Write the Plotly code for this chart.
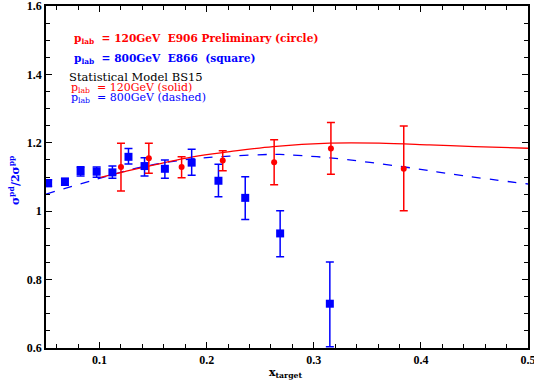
import plotly.graph_objects as go

# E866 (800 GeV) data, squares
e866_x = [0.052, 0.0677, 0.0823, 0.0973, 0.112, 0.127, 0.142, 0.161, 0.186, 0.211, 0.236, 0.2686, 0.315]
e866_y = [1.082, 1.086, 1.1175, 1.1155, 1.1135, 1.159, 1.132, 1.124, 1.142, 1.089, 1.039, 0.935, 0.7295]
e866_up = [0.010, 0.010, 0.0125, 0.014, 0.0185, 0.024, 0.024, 0.026, 0.039, 0.048, 0.062, 0.066, 0.122]
e866_dn = [0.010, 0.010, 0.0145, 0.016, 0.0175, 0.021, 0.029, 0.028, 0.037, 0.047, 0.063, 0.068, 0.126]

# E906 (120 GeV) preliminary data, circles
e906_x = [0.120, 0.146, 0.1766, 0.215, 0.263, 0.316, 0.384]
e906_y = [1.129, 1.155, 1.129, 1.148, 1.143, 1.183, 1.124]
e906_up = [0.070, 0.044, 0.030, 0.029, 0.066, 0.076, 0.125]
e906_dn = [0.070, 0.044, 0.031, 0.030, 0.066, 0.075, 0.123]

# Statistical model BS15 curves
bs120_x = [0.100, 0.1235, 0.187, 0.2216, 0.262, 0.315, 0.361, 0.408, 0.450, 0.500]
bs120_y = [1.098, 1.116, 1.159, 1.174, 1.189, 1.199, 1.199, 1.194, 1.189, 1.184]
bs800_x = [0.050, 0.091, 0.1377, 0.184, 0.2216, 0.259, 0.268, 0.315, 0.383, 0.439, 0.500]
bs800_y = [1.050, 1.088, 1.128, 1.152, 1.161, 1.166, 1.166, 1.156, 1.130, 1.104, 1.0795]

RED = "#ff0000"
BLUE = "#0000ff"
FONT = "DejaVu Serif"

fig = go.Figure()
fig.add_trace(go.Scatter(x=bs800_x, y=bs800_y, mode="lines", line=dict(color=BLUE, width=1.3, dash="dash", shape="spline"), showlegend=False))
fig.add_trace(go.Scatter(x=bs120_x, y=bs120_y, mode="lines", line=dict(color=RED, width=1.3, shape="spline"), showlegend=False))
fig.add_trace(go.Scatter(x=e866_x, y=e866_y, mode="markers",
                         marker=dict(symbol="square", size=8, color=BLUE),
                         error_y=dict(type="data", array=e866_up, arrayminus=e866_dn, color=BLUE, thickness=1.5, width=4),
                         showlegend=False))
fig.add_trace(go.Scatter(x=e906_x, y=e906_y, mode="markers",
                         marker=dict(symbol="circle", size=6, color=RED),
                         error_y=dict(type="data", array=e906_up, arrayminus=e906_dn, color=RED, thickness=1.5, width=4),
                         showlegend=False))

L, R, T, B = 46, 6, 6, 35
W, H = 534, 383
pw, ph = W - L - R, H - T - B

def px(xp):
    return (xp - L) / pw

def py(yp):
    return (H - B - yp) / ph

texts = [
    ("p<sub>lab</sub>  = 120GeV  E906 Preliminary (circle)", 73, 39, RED, True, 10.6),
    ("p<sub>lab</sub>  = 800GeV  E866  (square)", 73, 58.5, BLUE, True, 10.6),
    ("Statistical Model BS15", 68, 77, "black", False, 11.5),
    ("p<sub>lab</sub>  = 120GeV (solid)", 70, 87.5, RED, False, 11),
    ("p<sub>lab</sub>  = 800GeV (dashed)", 70, 98, BLUE, False, 11),
]
for t, x0, y0, c, bold, fs in texts:
    fig.add_annotation(text=("<b>%s</b>" % t) if bold else t, x=px(x0), y=py(y0), xref="paper", yref="paper",
                       xanchor="left", yanchor="middle", showarrow=False, borderpad=0,
                       font=dict(family=FONT, size=fs, color=c))

fig.add_annotation(text="<b>σ<sup>pd</sup>/2σ<sup>pp</sup></b>", x=px(14), y=py(180), xref="paper", yref="paper",
                   xanchor="center", yanchor="middle",
                   textangle=-90, showarrow=False, font=dict(family=FONT, size=11, color=BLUE))
fig.add_annotation(text="<b>x<sub>target</sub></b>", x=px(285), y=py(373), xref="paper", yref="paper",
                   xanchor="center", yanchor="middle",
                   showarrow=False, font=dict(family=FONT, size=11, color="black"))

axis_common = dict(showgrid=False, zeroline=False, showline=True, linecolor="black", linewidth=1.5,
                   mirror="allticks", ticks="inside", ticklen=6, tickwidth=1.2, tickcolor="black",
                   ticklabeloverflow="allow", automargin=False,
                   tickfont=dict(family="Liberation Serif", size=12, color="black", weight="bold"))
fig.update_xaxes(range=[0.05, 0.5], tick0=0, dtick=0.1,
                 minor=dict(dtick=0.02, tick0=0, ticks="inside", ticklen=4, tickcolor="black", tickwidth=1),
                 **axis_common)
fig.update_yaxes(range=[0.6, 1.6], tick0=0, dtick=0.2,
                 minor=dict(dtick=0.05, tick0=0, ticks="inside", ticklen=4, tickcolor="black", tickwidth=1),
                 **axis_common)
fig.update_layout(width=W, height=H, margin=dict(l=L, r=R, t=T, b=B, autoexpand=False),
                  plot_bgcolor="white", paper_bgcolor="white")
fig.write_html("out.html", config={"displayModeBar": False},
               post_script="document.body.style.margin='0';")
